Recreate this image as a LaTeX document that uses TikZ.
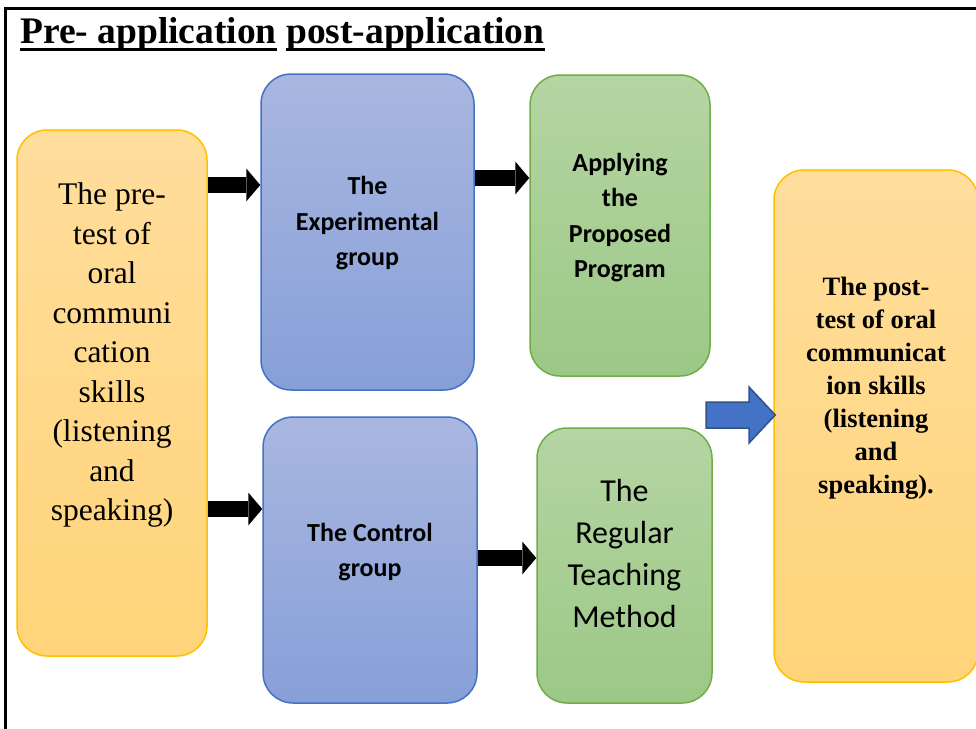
\documentclass[tikz,border=0pt]{standalone}
\usepackage{fontspec}
\setmainfont{Liberation Serif}
\newfontfamily\calibri{Carlito}
\usetikzlibrary{arrows.meta}
\newcommand\ulbar[1]{\setbox0=\hbox{#1}\rlap{\rule[-8pt]{\wd0}{3pt}}\box0\relax}

\begin{document}
\begin{tikzpicture}[x=1pt, y=-1pt,
    box/.style={rounded corners=30pt, line width=1.5pt, inner sep=0pt},
    goldbox/.style={box, draw=goldline, top color=goldtop, bottom color=goldbot},
    bluebox/.style={box, draw=blueline, top color=bluetop, bottom color=bluebot},
    greenbox/.style={box, draw=greenline, top color=greentop, bottom color=greenbot},
    blkarrow/.style={draw=black, line width=16pt, -{Triangle[length=14pt, width=33pt, line width=0pt]}},
    boxtext/.style={align=center, inner sep=0pt}]
    % Define colors
    \definecolor{goldline}{RGB}{255,192,0}   % Gold
    \definecolor{goldtop}{RGB}{255,221,156}
    \definecolor{goldbot}{RGB}{255,212,121}
    \definecolor{blueline}{RGB}{68,114,196}  % Blue
    \definecolor{bluetop}{RGB}{169,183,224}
    \definecolor{bluebot}{RGB}{135,159,216}
    \definecolor{greenline}{RGB}{112,173,71} % Green
    \definecolor{greentop}{RGB}{181,213,163}
    \definecolor{greenbot}{RGB}{156,200,134}
    \definecolor{arrowfill}{RGB}{68,114,196}
    \definecolor{arrowline}{RGB}{47,82,143}

    \useasboundingbox (0,0) rectangle (976,728);

    % Frame
    \draw[line width=2.5pt] (5.5,740) -- (5.5,8.5) -- (990,8.5);

    % Title
    \node[anchor=base west, inner sep=0pt, font=\bfseries\fontsize{37.5}{44}\selectfont] (title) at (20,43)
        {\ulbar{Pre- application} \ulbar{post-application}};

    % Boxes
    \node[goldbox, minimum width=190pt, minimum height=526pt] (pretest) at (112,393) {};
    \node[bluebox, minimum width=213pt, minimum height=316pt] (expgroup) at (367.5,232) {};
    \node[greenbox, minimum width=180pt, minimum height=301pt] (program) at (620,225.5) {};
    \node[bluebox, minimum width=214pt, minimum height=286pt] (ctrlgroup) at (370,560) {};
    \node[greenbox, minimum width=175pt, minimum height=275pt] (regular) at (624.5,565.5) {};
    \node[goldbox, minimum width=204pt, minimum height=512pt] (posttest) at (876,426) {};

    % Box texts
    \node[boxtext, font=\fontsize{31.5}{39.5}\selectfont] (pretest-txt) at ([yshift=38pt]pretest.center)
        {The pre-\\test of\\oral\\communi\\cation\\skills\\(listening\\and\\speaking)};
    \node[boxtext, font=\calibri\bfseries\fontsize{26}{35.5}\selectfont] (expgroup-txt) at ([yshift=8.5pt]expgroup.center)
        {The\\Experimental\\group};
    \node[boxtext, font=\calibri\bfseries\fontsize{26}{35.5}\selectfont] (program-txt) at ([yshift=8pt]program.center)
        {Applying\\the\\Proposed\\Program};
    \node[boxtext, font=\calibri\bfseries\fontsize{26}{35.5}\selectfont] (ctrlgroup-txt) at ([yshift=8pt]ctrlgroup.center)
        {The Control\\group};
    \node[boxtext, font=\calibri\fontsize{32}{42.3}\selectfont] (regular-txt) at ([yshift=12pt]regular.center)
        {The\\Regular\\Teaching\\Method};
    \node[boxtext, font=\bfseries\fontsize{26.5}{33}\selectfont] (posttest-txt) at ([yshift=38pt]posttest.center)
        {The post-\\test of oral\\communicat\\ion skills\\(listening\\and\\speaking).};

    % Black arrows
    \foreach \from/\to/\y in {pretest/expgroup/185, expgroup/program/178, pretest/ctrlgroup/509, ctrlgroup/regular/558}
        {
        \draw[blkarrow] (\from.east |- 0,\y) -- (\to.west |- 0,\y);
    }

    % Blue arrow
    \coordinate (bluestart) at (706,415);
    \draw[fill=arrowfill, draw=arrowline, line width=1.5pt, line join=miter]
        (706,402) -- (749,402) -- (749,387) -- ([xshift=2pt]posttest.west |- bluestart)
        -- (749,443) -- (749,428) -- (706,428) -- cycle;
\end{tikzpicture}
\end{document}
